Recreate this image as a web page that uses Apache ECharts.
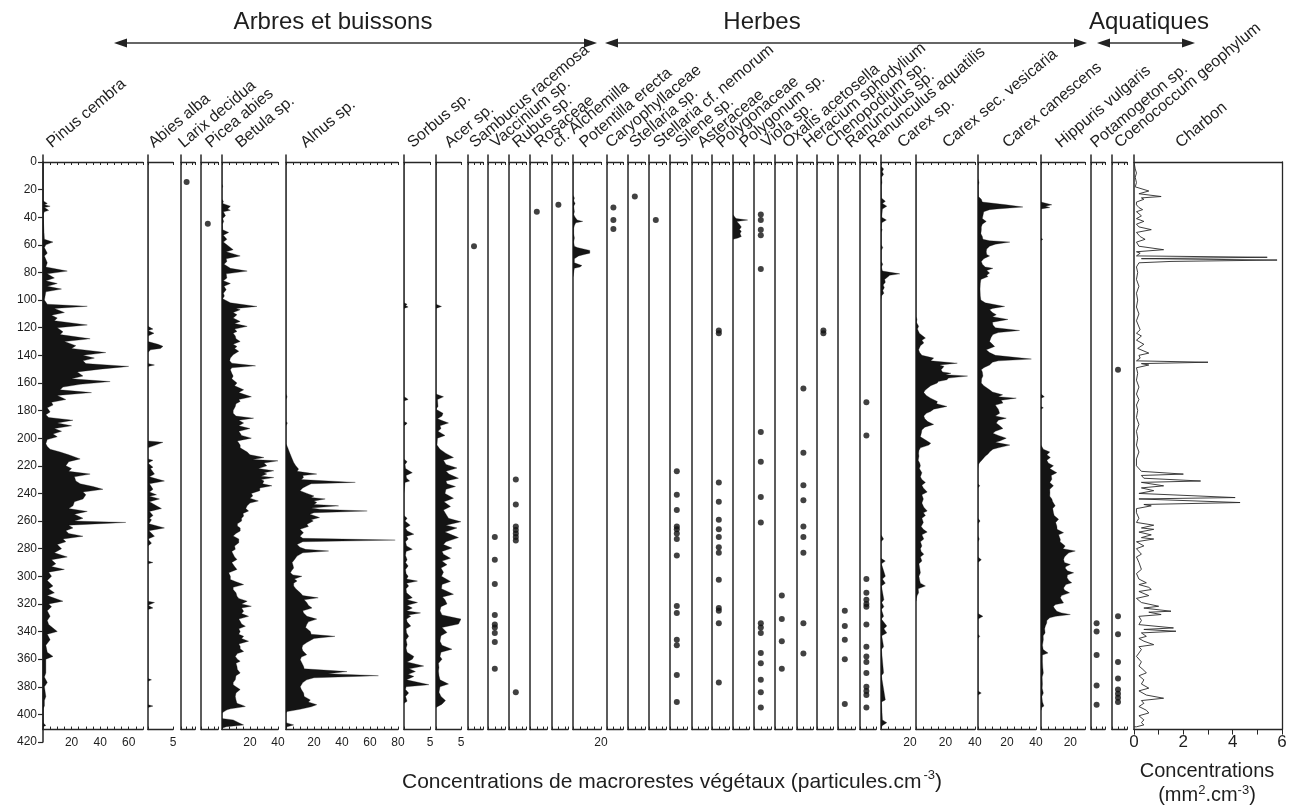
<!DOCTYPE html>
<html><head><meta charset="utf-8">
<script src="https://cdn.jsdelivr.net/npm/echarts@6/dist/echarts.min.js"></script>
<style>html,body{margin:0;padding:0;background:#fff}#c{width:1298px;height:805px}</style>
</head><body><div id="c"></div>
<script>
// ---------- categories ----------
const taxa = ['Pinus cembra','Abies alba','Larix decidua','Picea abies','Betula sp.','Alnus sp.','Sorbus sp.','Acer sp.',
  'Sambucus racemosa','Vaccinium sp.','Rubus sp.','Rosaceae','cf. Alchemilla','Potentilla erecta','Caryophyllaceae',
  'Stellaria sp.','Stellaria cf. nemorum','Silene sp.','Asteraceae','Polygonaceae','Polygonum sp.','Viola sp.',
  'Oxalis acetosella','Heracium sphodylium','Chenopodium sp.','Ranunculus sp.','Ranunculus aquatilis','Carex sp.',
  'Carex sec. vesicaria','Carex canescens','Hippuris vulgaris','Potamogeton sp.','Coenococcum geophylum','Charbon'];
const groups = ['Arbres et buissons','Herbes','Aquatiques'];
const depthTicks = [0,20,40,60,80,100,120,140,160,180,200,220,240,260,280,300,320,340,360,380,400,420];

// ---------- series values: [depth (cm), concentration] ----------
const pinus = [[0,0],[28,0],[30,3],[31,1],[32,5],[33,1],[35,4],[36,1],[38,0],[56,1],[58,7],[60,2],[62,1],[66,3],[68,1],[73,3],[76,2],[79,17],[81,3],[84,8],[86,2],[88,10],[90,3],[92,13],[94,2],[100,1],[103,3],[104.5,31],[106,8],[109,15],[111,6],[113,10],[115,8],[118,31],[120,10],[123,14],[125,12],[128,33],[130,15],[133,23],[135,20],[138,44],[140,28],[142,36],[144,28],[146,30],[148,60],[150,40],[152,24],[155,28],[157,20],[159,47],[161,26],[163,14],[165,12],[167,34],[169,10],[172,16],[174,6],[176,7],[178,3],[181,5],[183,2],[185,4],[187,21],[189,10],[191,20],[193,8],[195,13],[197,7],[199,10],[201,3],[204,2],[206,3],[208,5],[210,12],[212,18],[215,26],[217,18],[220,16],[222,20],[224,18],[226,33],[228,22],[231,23],[233,26],[235,35],[237,42],[239,28],[241,30],[244,28],[246,22],[249,21],[251,18],[253,31],[255,22],[258,28],[260,22],[261,58],[263,18],[265,21],[267,16],[269,18],[271,28],[273,14],[275,16],[277,10],[280,13],[283,8],[286,17],[288,6],[291,9],[293,6],[295,15],[297,4],[300,6],[303,3],[307,7],[309,4],[312,8],[314,3],[318,14],[320,4],[322,6],[325,3],[329,5],[332,3],[335,4],[340,10],[342,3],[346,5],[350,2],[355,3],[358,7],[360,2],[365,2],[370,2],[373,1],[377,3],[380,1],[387,2],[390,1],[394,1],[396,0],[406,0],[408,2],[409,0]];
const abies = [[0,0],[119,0],[121,1],[122,0],[124,1.2],[126,0],[130,0],[132,2],[133.5,3],[135,2.5],[136,0.5],[138,0],[146,0],[147,1.3],[148,0],[202,0],[203,3],[205,1.5],[207,0],[215,0],[216,1],[218,0],[221,1],[222,0.5],[226,1.3],[228,0.3],[231,3.3],[233,0.3],[237,1],[239,0.3],[241,1.7],[242,0.3],[244,2.3],[246,0.3],[249,1.7],[251,2.7],[253,0.3],[256,1],[258,0.3],[259,0.7],[262,0.2],[265,3.3],[267,0.2],[271,1.3],[273,0],[276,0.7],[278,0],[289,0],[290,1],[291,0],[318,0],[319,1.3],[321,0],[323,1],[324,0],[374,0],[375,0.7],[376,0],[393,0],[394,1],[395,0]];
const betula = [[0,0],[16,0],[17.6,0.5],[19,0],[27,0],[28.5,1],[30,0.5],[32,6],[34,4],[35,6],[36,1],[39,2.5],[41,0.5],[43,1.2],[45,0.3],[49,0.5],[51,4.8],[53,1],[56,3.5],[58,1],[61,4.8],[63.5,8],[65,3],[68,13],[70,3],[72,3.5],[74,1.5],[77,6],[79,18],[81,3],[84,3.5],[86,1],[88,6],[90,1.5],[92.5,3],[95,1],[97,1.7],[99,0.5],[102,6],[104.6,25],[106,10],[107,13],[109,8],[110.6,10.7],[113,8],[115.5,13],[117,9],[119,18],[121,9],[122.7,10.7],[124,8],[126,9.5],[128,10],[130,13],[132,8],[133.6,10.7],[135,9],[137,12],[139.6,8],[142,6],[144,5.5],[145.7,7],[147.6,24],[149,7],[150.5,6],[153,7],[155,8],[157,7],[160,10.7],[162,9],[165,15.5],[167,12],[170,21],[172,12],[173.4,13],[175,10],[177,9.5],[180,8],[182,8],[184,10],[185.5,22.6],[187,12],[189,15.5],[191,12],[193,20],[195,12],[196.4,13],[198,14],[200,21],[202,11],[205,13],[207,13],[210,18],[212,20],[214,30],[215.5,22],[216.4,40],[218,30],[220,32],[222,26],[223.6,37],[225,30],[226,32],[227.5,28],[228.5,37],[230,28],[231,30],[233,29],[234.5,35.7],[236,27],[238,27],[240,21],[241.8,22],[243.5,20],[245.4,26],[247,20],[249,18],[251,17],[252.7,19],[254.5,15],[256.3,15.5],[258,14],[260,14],[262,11],[263.6,11],[265,13],[267.2,13],[269,10],[270.8,8],[273,12],[275.7,12],[278,9],[280.5,9.5],[282,7],[284,8],[286,9],[287.8,10.7],[290,7],[291.4,8],[293,9],[295,10.7],[297.5,4.8],[300,6],[302.3,6],[304,10],[306,15.5],[308,8],[309.6,8],[312,10],[314.4,10.7],[316,12],[318,18],[320,14],[321.7,21],[323,14],[325.3,15.5],[327,14],[329,19],[331,12],[332.6,13],[334.5,14],[336.2,16.7],[338,12],[340,13],[342,12],[343.5,15.5],[345,14],[347,19],[349,12],[350.8,13],[352.5,13],[354.4,15.5],[356,11],[358,9.5],[360,11],[361.6,13],[363,10],[365.3,10.7],[367.5,11],[370,13],[372,10],[375,9.5],[377,8],[378.6,8],[380,10],[382,13],[384.5,10],[387,9.5],[389.5,10],[392,10.7],[393.5,15],[394.3,16.7],[396,6],[396.7,3.6],[398,1.5],[399,0],[403,0],[404,8],[406,12],[407.7,15.5],[409,3],[410,0]];
const alnus = [[0,0],[168,0],[170,0.8],[172,0],[188,0],[189,1],[191,0],[204,0],[206.7,1.2],[209,2],[211.5,3],[214,4],[217.6,5.5],[220,7],[222.4,9],[224,8],[226,22],[227,12],[228.5,12.5],[230,11],[232,49.5],[233,18],[234.5,15],[236,12],[238,10],[240,15],[241.8,20],[243,18],[244,28],[245.5,20],[246.6,22],[248,20],[249,37.6],[250.5,18],[251.5,24],[252.7,58],[254,20],[255,17],[257.5,24],[259,18],[260,19.5],[262.4,15],[264,16],[266,10],[268.5,12.5],[270,11],[271,10],[272.5,12],[273.8,78],[275,12],[277,7.9],[279,10],[280.5,14],[281.7,30.5],[283,12],[285.4,7.9],[288,6],[290,4.4],[292,5],[294,5.5],[296,4],[297.5,3.2],[299,5],[300,11.4],[302,6],[303.5,7.9],[305,5.5],[307,5.5],[309,7],[312,10.2],[314,12],[315.6,23],[317,13],[319,14.8],[321,16],[323,18.6],[325,12],[326.5,12.6],[329,15],[331,22],[333,16],[335,14.8],[337,14],[340,17.4],[342,18],[343.5,35],[345,20],[348,14.8],[350,12],[352,11.4],[354,12],[356.8,14.8],[358.5,11],[360.4,10.2],[362,11],[365.3,12.6],[367,13],[369,43.6],[370.5,30],[372,66],[373.5,20],[375,14.8],[377,12],[380,10.2],[382,11],[384.6,12.6],[387,13],[389.5,17.4],[391,16],[393,22],[394.5,18],[396.3,10],[398,0.8],[399,0],[406,0],[407.6,5.5],[409,0.8],[410,0]];
const sorbus = [[0,0],[102,0],[103,0.6],[104,0.3],[105,0.8],[106,0],[170,0],[171,0.5],[172,0.8],[173,0],[188,0],[189,0.6],[190,0.4],[191,0],[215,0],[217,0.6],[219,0.2],[222,0.3],[225,1.6],[227,0.4],[229,0.5],[231,1.1],[232,0.2],[240,0],[256,0],[258,0.6],[260,0.2],[263,1.2],[265,0.3],[267,0.6],[269.5,1.9],[271,0.5],[273,0.8],[275,0.3],[278,0.5],[280.5,1.6],[282,0.4],[285,0.3],[288,0.6],[290,0.3],[292.5,0.8],[295,0.3],[298,0.4],[300,0.8],[302,0.5],[303.5,2.6],[305,0.5],[307,0.9],[309,0.4],[312,0.5],[315.5,1.6],[317,0.6],[319,2.6],[321,0.6],[323,1.6],[325,0.5],[326.5,3.2],[328,0.8],[329,1.3],[331,0.5],[333,0.6],[336,1.3],[338,0.4],[341,0.5],[343.5,0.9],[346,0.4],[349.5,0.6],[352,0.4],[355,0.6],[358,1.9],[360,1.6],[362,0.6],[365,3.8],[367,1],[369,2.2],[371,0.8],[372.5,1.9],[375,0.5],[378.5,4.8],[380,0.4],[382,0.3],[384.5,0.9],[387,0.3],[390.5,0.6],[392,0]];
const acer = [[0,0],[103,0],[104.6,1.1],[106,0],[168,0],[170,1.5],[172,0.3],[177,0.4],[179,0],[182,1.4],[184,1.2],[186,0.3],[189,2.5],[191,0.8],[193,1],[195,0.4],[198,1.8],[200,0.3],[205,0.2],[208,0.8],[211,2],[214,3.5],[216,1.5],[219,2],[221.6,4.2],[224,2],[226,2.6],[229,4.5],[231,2],[233,2.2],[235,3.9],[237,2],[240,1.8],[243.5,3.5],[246,1.6],[249.5,2.9],[252,1.5],[255,2],[258,2.5],[260.5,5],[263,2],[265,4.2],[268,1.8],[272,4.5],[275,2],[277,1.5],[279.6,3.2],[282,1.2],[284,1.5],[287,2.9],[289,1.2],[291.6,2.2],[294,1],[297,1.5],[300,1.1],[303.7,2.9],[306,1.2],[309,1.1],[313,3.5],[315,1.3],[317,1.8],[320,2.2],[322,1],[325,0.8],[328,1.2],[331,5],[334.6,4.5],[337,1.2],[340.7,2.2],[343,1],[347,0.8],[350,1.2],[352.8,3.2],[355,1],[358,0.8],[360,1.2],[363,0.5],[366,0.6],[368.5,0.5],[372,0.6],[375,0.8],[378,2.5],[380,0.8],[384,0.6],[387,1],[390,1.9],[392.6,1.2],[395,0]];
const potentilla = [[0,0],[24,0],[26,1],[28,0.5],[30,1.5],[32,0.5],[36,1],[38,0.5],[40,1.5],[42,3],[43,7],[44,2],[46,1],[48,0.5],[52,0.5],[55,1],[58,0.5],[61,1],[62,3],[64,12],[66,12],[67,8],[68,4],[70,1],[73,1],[75,6.4],[76,5],[77,1],[80,0.5],[83,0]];
const polygonum = [[0,0],[38,0],[40,0.3],[41,0.5],[42,2.3],[43,0.6],[45,1.0],[47,1.3],[49,1.0],[50,1.3],[52,1.1],[54,1.3],[55,0.8],[56,0]];
const carexSp = [[0,0],[3,0],[5,1.8],[7,0.8],[9,1.8],[11,0.3],[15,0.7],[17,0.2],[26,0.3],[28.5,3],[30,1],[32,4],[34,1],[40,0.5],[42,3.7],[44,0.5],[48,0.3],[49,0.8],[51,0.2],[60,0.2],[62,1.2],[64,0.2],[72,0.2],[74,1.2],[76,0.3],[79,1],[81,13],[82,6],[83,5],[85,2.5],[87,3],[89,1.5],[91,2.3],[93,1.2],[95,2],[97,0.3],[100,0],[270,0],[273,1.8],[275,0],[287,0],[289,3],[291,0.3],[300,3],[302,1],[305,3],[307,0.3],[317,2],[319,0.5],[322,2],[324,0.3],[329,1.8],[331,0.3],[336,4],[338,2],[341,4],[343,0.5],[351,1.8],[353,0.3],[370,1.8],[372,0.3],[389.5,3],[391,0.3],[404,1],[406,4],[408,1],[410,0]];
const carexVes = [[0,0],[112,0],[114,0.7],[116,0.3],[119,1.8],[121,1],[124,2.3],[127.5,6.4],[129,4],[131,5.3],[133,3],[136,1.8],[138,2.5],[140,4],[142,12],[144,10],[145.7,28],[147,16],[148,19],[150.5,17],[152,18],[153,23.7],[154,20],[155,35],[156.5,22],[157.7,21],[159,15],[160,14.5],[162,10],[164,7.6],[165.5,6],[167,5.3],[169,7],[171,9.9],[173.4,14.5],[175,14],[177,21],[179,12],[180.7,9.9],[182,7],[184,5.3],[186,6],[188,8],[190,12],[192,6],[194,4],[196,3.7],[199,3],[201,6],[203.6,10],[205,8.7],[207,3],[209,2],[211,1.8],[213,2],[216,1.5],[218,2.5],[220,3],[222,2.3],[225,4],[228,3],[230,4],[232,6.4],[234,4],[236,5],[239,7.6],[241,4],[244,5],[247,4],[250,5.3],[252.7,7.6],[254,5],[256,6.4],[258,4],[261,5],[264,3.5],[266,5],[268,7.6],[270,4],[273,5.3],[275,3],[278,4],[280,3],[282,3.5],[284,5.3],[286,3],[289,4],[291,2],[294,2.5],[297.5,3],[300,2],[303,2.5],[305,3],[307,6.4],[309,1.5],[312,1.8],[314,0.8],[316,0.3],[318,0]];
const carexCan = [[0,0],[12,0],[15,0.7],[17,0.2],[25,0.3],[27,2.3],[29,3],[31,19.5],[32.6,31],[34,13],[34.5,8],[36,4],[39,3.4],[41,3],[43,5.7],[45,3],[47,2.3],[49,2.3],[52,2],[54,3],[56,3.4],[57,8],[58,22],[59.5,12],[61,8],[63,6],[65,5.7],[67,6],[68,8],[70,4],[72,2.3],[74,3],[76,5],[77,10.3],[78.5,6],[80.4,8],[82,6],[83,6.9],[85,2],[88,1.6],[92,1.4],[97,1.6],[100,2],[102,5],[104.6,18.4],[106,10],[107,8],[109,10],[110.6,12.6],[112,10],[114,20.7],[116,10],[118,10.3],[120,12],[122,28.7],[123.5,14],[125,10.3],[127,9],[130,8],[132,10],[133.6,11.5],[135,8],[136,5.7],[138,8],[140,12],[142.7,36.8],[144,14],[145,10],[147,8],[149,4],[150.5,2.3],[152,3],[155,3.4],[157,2.5],[160,2.3],[162,4],[165,8],[166.5,10],[168.6,17],[170,14],[171,26.4],[172.5,16],[174.6,17.2],[176,12],[177,12.6],[179,14],[182,14.9],[184,12],[185.5,19.5],[187,14],[189,12.6],[191,15],[193,17.2],[195,12],[196.4,10.3],[198,14],[200,19.5],[202,15],[203,12],[205,22],[207,14],[208,10.3],[210,8],[211.5,6.9],[213,5],[215,3.4],[217.6,1.2],[219,0.3],[222,0],[233,0],[234.5,1.2],[236,0],[258,0],[260,1.4],[262,0],[271,0],[273,0.9],[275,0],[286,0],[288,2.3],[290,0],[327,0],[329,3.4],[331,0],[342,0],[343.5,1.2],[345,0],[383,0],[384.6,2.3],[386,0]];
const hippuris = [[0,0],[29,0],[31,7.4],[32,3],[33,6],[34,0],[55,0],[56,1.2],[57,0],[168,0],[170,2.3],[171,0],[177,0],[178,1.6],[179,0],[205,0],[208,1.6],[210,6],[212,4],[214,6.4],[216,4],[218,5],[220,8.5],[222,6],[225,10.8],[227,7],[229.7,7.4],[232,6],[234.5,8.5],[237,6],[239.4,6.1],[242,6],[244,7.4],[246,8],[249,9.7],[251,8],[254,8.5],[256,9],[258.7,12],[261,10],[263.6,10.8],[266,11],[268.4,15.4],[270,12],[273.3,13.2],[275,13],[278,16.5],[280,15],[281.7,23.4],[283,19],[284,17.8],[286,16],[287.8,15.4],[290,16],[291.4,20],[293,17],[294,16.5],[296,18],[297.5,22.3],[299,18],[301,17.8],[303,19],[304.7,21],[306,17],[308.4,15.4],[310,16],[312,19.5],[314,14],[315.6,13.2],[317,14],[319.3,15.4],[320.5,10],[321.7,8.5],[323,9],[325.3,10.8],[326.5,14],[327.7,20],[329,10],[330,6],[332,4],[333.8,3.9],[336,3],[338,2.5],[341,2.8],[343,1.5],[346,1.6],[350,1],[353,1.5],[355.6,4.8],[357,1],[362,1],[366,1.2],[370,1.6],[373,0.8],[378,1],[381,0.8],[384.6,1.6],[387,0.6],[391,1],[394,2],[395,0.5],[397,0]];
const charbon = [[0,0],[5,0.05],[8,0.1],[11,0.05],[15,0.1],[18,0.05],[21,0.6],[23,0.2],[25,1.1],[26,0.3],[27,0.4],[29,0.1],[31,0.1],[33,0.2],[34.5,0.35],[36,0.1],[39,0.3],[41,0.1],[43,0.4],[45,0.1],[47,0.2],[49,0.7],[51,0.1],[54,0.25],[56,0.45],[58,0.1],[61,0.2],[63.5,1.2],[65,0.1],[66,0.25],[68,0.1],[69,5.4],[70,0.3],[71,5.8],[72,1.5],[73,0.2],[76,0.1],[80,0.15],[85,0.1],[90,0.2],[95,0.1],[100,0.15],[105,0.1],[110,0.2],[115,0.1],[121.5,0.25],[124,0.1],[126,0.3],[129,0.1],[132,0.4],[135,0.15],[138.4,0.6],[140,0.2],[142,0.25],[144,0.1],[145,3.0],[146,0.3],[147,0.6],[149,0.1],[153,0.15],[158,0.1],[163,0.2],[168,0.1],[172,0.2],[176,0.1],[180,0.15],[185,0.1],[190,0.2],[195,0.1],[200,0.15],[205,0.1],[210,0.2],[215,0.1],[220,0.1],[224,0.3],[226,2.0],[227,0.3],[229,0.4],[231,2.7],[232,0.3],[234.5,1.2],[236,0.3],[238,0.8],[240,0.2],[243,4.1],[244,0.2],[246.6,4.3],[248,0.4],[249,0.7],[251,0.1],[254,0.1],[258,0.2],[261,0.1],[263,0.8],[265,0.3],[266,0.8],[268,0.2],[270,0.7],[272,0.3],[273,0.8],[275,0.1],[278,0.4],[280,0.1],[284,0.3],[286,0.1],[290,0.2],[295,0.3],[298,0.1],[302,0.2],[304.7,0.5],[306,0.2],[308,0.6],[309.6,0.7],[311,0.2],[314,0.6],[316,0.1],[319,0.3],[321.7,1.0],[323,0.4],[325.3,1.5],[326,0.6],[327.7,1.1],[329,0.2],[332,0.3],[335,0.2],[337.4,1.6],[338.5,0.4],[339.8,1.7],[341,0.3],[343.5,0.5],[345,0.2],[347,0.4],[349.5,0.8],[351,0.2],[353,0.3],[355.6,0.2],[358,0.1],[362,0.3],[365,0.2],[368,0.4],[370,0.5],[372,0.2],[375,0.4],[378,0.3],[381,0.6],[383,0.2],[386,0.5],[388.3,1.2],[390,0.3],[392,0.4],[394.3,0.2],[397,0.5],[399,0.6],[401,0.2],[404,0.4],[406,0.3],[407.6,0.4],[409,0.1]];
// presence records (depth, cm) : one macroremain each
const larix = [14.5];
const picea = [44.7];
const sambucus = [61];
const vaccinium = [271.5,288,305.6,328,335,337,341,347.6,367];
const rubus = [230,248,264,266.5,269,271.5,274,384];
const rosaceae = [36];
const alchemilla = [31];
const caryo = [33,42,48.6];
const stellaria = [25];
const stellariaNem = [42];
const silene = [224,241,252,264,266,269,273,285,321.5,326.5,346,350,371.5,391];
const asteraceae = [];
const polygonaceae = [122,124,232,246,259,266,271.5,279,283,302.5,323,325,334,377];
const viola = [38,42,49,53,77.5,195.5,217,242.6,261,334,337,341,355.5,363,375,384,395];
const oxalis = [314,331,347,367];
const heracium = [164,210.5,234,245,264,271.5,283,334,356];
const chenopodium = [122,124];
const ranunculus = [325,336,346,360,392.5];
const ranAquatilis = [174,198,302,312,317,320,322,335,351,358,362,370,380,383,386,395];
const potamogeton = [334,340,357,379,393];
const coenococcum = [150.5,329,342,362,374,382,385,388,391];

const panelData = [pinus,abies,larix,picea,betula,alnus,sorbus,acer,sambucus,vaccinium,rubus,rosaceae,alchemilla,
  potentilla,caryo,stellaria,stellariaNem,silene,asteraceae,polygonaceae,polygonum,viola,oxalis,heracium,chenopodium,
  ranunculus,ranAquatilis,carexSp,carexVes,carexCan,hippuris,potamogeton,coenococcum,charbon];
// x-axis tick labels shown per panel
const xTickLabels = [[20,40,60],[5],[],[],[20,40],[20,40,60,80],[5],[5],[],[],[],[],[],[20],[],[],[],[],[],[],[],[],[],[],[],[],[],[20],[20,40],[20,40],[20],[],[],[0,2,4,6]];

// ---------- layout (positions / sizes / scale ranges) ----------
// [left px, width px, x max, tick interval, kind]
const layout = [[43,100,70,5,'a'],[148,25,5,5,'a'],[181,14,2.5,1,'d'],[201,17,2.5,1,'d'],[222,56,40,5,'a'],[286,112,80,5,'a'],
  [404,26,5,5,'a'],[436,25,5,5,'a'],[468,15,2.5,1,'d'],[488,17,2.5,1,'d'],[509,17,2.5,1,'d'],[530,17,2.5,1,'d'],[552,16,2.5,1,'d'],
  [573,28,20,5,'a'],[607,16,2.5,1,'d'],[628,17,2.5,1,'d'],[649,17,2.5,1,'d'],[670,17,2.5,1,'d'],[692,16,2.5,1,'d'],[712,17,2.5,1,'d'],
  [733,16,2.5,1,'a'],[754,17,2.5,1,'d'],[775,17,2.5,1,'d'],[797,16,2.5,1,'d'],[817,16,2.5,1,'d'],[838,17,2.5,1,'d'],[860,16,2.5,1,'d'],
  [881,29,20,5,'a'],[916,59,40,5,'a'],[978,58,40,5,'a'],[1041,44,30,5,'a'],[1091,14,2.5,1,'d'],[1112,15,2.5,1,'d'],[1134,148,6,1,'l']];
const labelX = [54,156,186,213,243,308,415,452,477,498,520,542,560,587,613,637,661,683,705,724,747,769,790,811,833,853,875,905,950,1010,1063,1098,1122,1183];

const PX = 580/420, TOP = 162, EXT = 5, BOTD = 411;
const AX = '#262626', TXT = '#1e1e1e', FILL = '#141414';
const FONT = '"Liberation Sans", Arial, sans-serif';

const grid = [{left:43, top:TOP, width:100, height:580}];
const xAxis = [{gridIndex:0, type:'value', show:false, min:0, max:1}];
const yAxis = [{gridIndex:0, type:'value', min:0, max:420, interval:20, inverse:true,
  axisLine:{show:true, onZero:false, lineStyle:{color:AX, width:1.5}},
  axisTick:{show:true, length:5, lineStyle:{color:AX, width:1.2}},
  axisLabel:{fontSize:12, color:TXT, margin:6, fontFamily:FONT, customValues:depthTicks},
  splitLine:{show:false}}];
const series = [];

function areaItem(pts, line){
  return function(params, api){
    if (params.dataIndex !== 0) return null;
    const p = [api.coord([0, pts[0][0]])];
    for (const [d, v] of pts) p.push(api.coord([v, d]));
    p.push(api.coord([0, pts[pts.length-1][0]]));
    if (line) return {type:'polyline', shape:{points:p}, style:{stroke:'#2a2a2a', lineWidth:0.9, fill:null}};
    return {type:'polygon', shape:{points:p}, style:{fill:FILL, stroke:FILL, lineWidth:0.3}};
  };
}

layout.forEach((L, i) => {
  const [left, width, max, interval, kind] = L;
  const g = grid.length;
  grid.push({left, top: TOP - EXT*PX, width, height: (BOTD+EXT)*PX});
  const labs = xTickLabels[i];
  const big = kind === 'l';
  const bx = xAxis.length;
  xAxis.push({gridIndex:g, type:'value', min:0, max, interval, position:'bottom',
    axisLine:{show:true, onZero:false, lineStyle:{color:AX, width:1.3}},
    axisTick:{show:true, inside:!big, length: big?5:3, lineStyle:{color:AX}},
    axisLabel:{show:true, fontSize: big?17:12, color:TXT, margin: big?4:7, fontFamily:FONT, showMinLabel:true, showMaxLabel:true,
      formatter: v => labs.some(l => Math.abs(l - v) < 1e-6) ? String(v) : ''},
    splitLine:{show:false}});
  xAxis.push({gridIndex:g, type:'value', min:0, max, interval, position:'top',
    axisLine:{show:true, onZero:true, lineStyle:{color:AX, width:1.3}},
    axisTick:{show:!big, inside:true, length:3, lineStyle:{color:AX}},
    axisLabel:{show:false}, splitLine:{show:false}});
  const yi = yAxis.length;
  yAxis.push({gridIndex:g, type:'value', min:-EXT, max:BOTD, inverse:true, position:'left',
    axisLine:{show:true, onZero:false, lineStyle:{color:AX, width:1.5}},
    axisTick:{show:false}, axisLabel:{show:false}, splitLine:{show:false}});
  const data = panelData[i];
  if (kind === 'd') {
    series.push({type:'scatter', xAxisIndex:bx, yAxisIndex:yi, symbol:'circle', symbolSize:6,
      itemStyle:{color:'#111'}, silent:true, data: data.map(d => [1, d])});
  } else {
    series.push({type:'custom', xAxisIndex:bx, yAxisIndex:yi, clip:true, silent:true,
      data: data.map(([d, v]) => [v, d]), encode:{x:0, y:1},
      renderItem: areaItem(data, kind === 'l')});
  }
});
// right frame of the Charbon panel
{
  const g = grid.length;
  grid.push({left:1134, top:TOP, width:148, height:BOTD*PX});
  xAxis.push({gridIndex:g, type:'value', show:false, min:0, max:1});
  yAxis.push({gridIndex:g, type:'value', min:0, max:1, position:'right',
    axisLine:{show:true, onZero:false, lineStyle:{color:AX, width:1.3}},
    axisTick:{show:false}, axisLabel:{show:false}, splitLine:{show:false}});
}

// ---------- graphics: headers, taxon labels, titles ----------
const graphic = [];
const hdr = [[333,597,114],[762,1087,605],[1149,1195,1097]]; // [text center, arrow right, arrow left]
groups.forEach((t, i) => {
  const [cx, r, l] = hdr[i];
  graphic.push({type:'text', x:cx, y:22, style:{text:t, font:'24px '+FONT, fill:TXT, align:'center', verticalAlign:'middle', textAlign:'center', textVerticalAlign:'middle'}});
  graphic.push({type:'line', shape:{x1:l+8, y1:43, x2:r-8, y2:43}, style:{stroke:'#333', lineWidth:1.6}});
  graphic.push({type:'polygon', shape:{points:[[l,43],[l+13,38.5],[l+13,47.5]]}, style:{fill:'#222'}});
  graphic.push({type:'polygon', shape:{points:[[r,43],[r-13,38.5],[r-13,47.5]]}, style:{fill:'#222'}});
});
taxa.forEach((t, i) => {
  graphic.push({type:'text', x:labelX[i], y:151, rotation:40*Math.PI/180,
    style:{text:t, font:'16px '+FONT, fill:TXT, align:'left', verticalAlign:'bottom', textAlign:'left', textVerticalAlign:'bottom'}});
});
graphic.push({type:'text', x:672, y:782, style:{text:'Concentrations de macrorestes végétaux (particules.cm{s|-3})',
  rich:{s:{fontSize:13, fontFamily:FONT, fill:TXT, verticalAlign:'top', lineHeight:26, padding:[0,0,12,2]}},
  font:'21px '+FONT, fill:TXT, align:'center', verticalAlign:'middle', textAlign:'center', textVerticalAlign:'middle'}});
graphic.push({type:'text', x:1207, y:771, style:{text:'Concentrations', font:'20px '+FONT, fill:TXT, align:'center', verticalAlign:'middle', textAlign:'center', textVerticalAlign:'middle'}});
graphic.push({type:'text', x:1207, y:795, style:{text:'(mm{s|2}.cm{s|-3})', rich:{s:{fontSize:13, fontFamily:FONT, fill:TXT, padding:[0,0,10,0]}},
  font:'20px '+FONT, fill:TXT, align:'center', verticalAlign:'middle', textAlign:'center', textVerticalAlign:'middle'}});

const chart = echarts.init(document.getElementById('c'), null, {renderer:'canvas'});
chart.setOption({animation:false, backgroundColor:'#fff', grid, xAxis, yAxis, series, graphic});
</script></body></html>
